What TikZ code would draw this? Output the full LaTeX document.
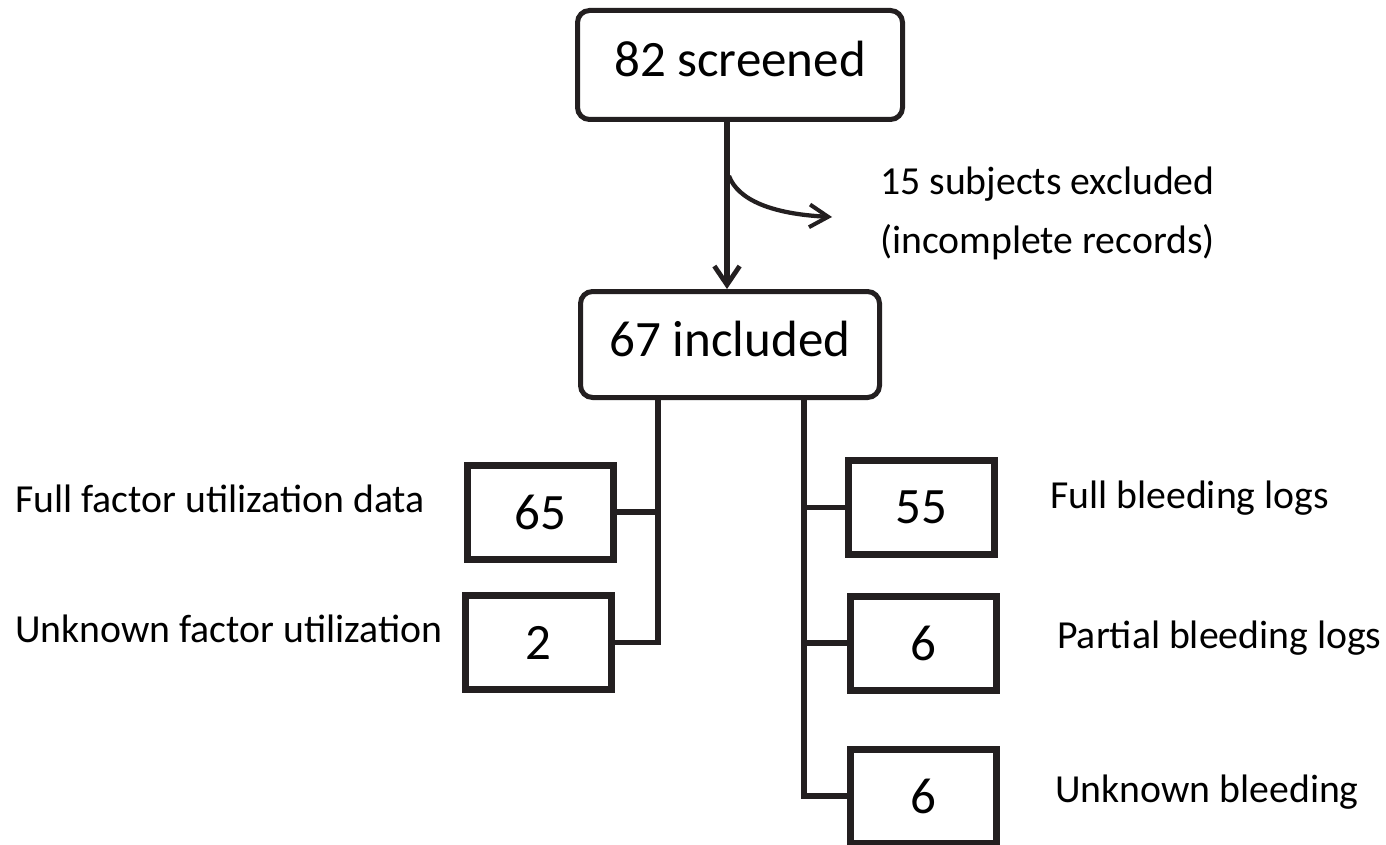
\documentclass[tikz,border=0pt]{standalone}
\usepackage{fontspec}
\setmainfont{Carlito}
\usetikzlibrary{arrows.meta}
\definecolor{ink}{HTML}{231F20}
\tikzset{
  roundbox/.style={draw=ink, line width=3.75pt, rounded corners=9pt, inner sep=0pt,
    font=\fontsize{38.25}{40}\selectfont, text height=27pt, text depth=9pt},
  numbox/.style={draw=ink, line width=5.25pt, inner sep=0pt, minimum width=110pt, minimum height=70.5pt,
    font=\fontsize{38.25}{40}\selectfont},
  sidelabel/.style={anchor=base west, inner sep=0pt, font=\fontsize{29.8}{32}\selectfont},
  conn/.style={draw=ink, line width=4.2pt},
  mainarrow/.style={draw=ink, line width=3.9pt, -{Straight Barb[length=14pt,width=19pt,line width=3.6pt]}},
  exarrow/.style={draw=ink, line width=3.2pt, -{Straight Barb[length=14pt,width=17pt,line width=3pt]}}
}
\begin{document}
\begin{tikzpicture}[x=0.75pt,y=-0.75pt]
\useasboundingbox (0,0) rectangle (1386,845);
% main boxes
\node[roundbox, minimum width=243.75pt, minimum height=81.75pt] (scr) at (740,65) {82 screened};
\node[roundbox, minimum width=224.25pt, minimum height=79.5pt] (inc) at (730,344.5) {67 included};
% number boxes
\node[numbox] (b65) at (540.5,512) {65};
\node[numbox] (b2) at (538.5,642.5) {2};
\node[numbox] (b55) at (921.5,507.5) {55};
\node[numbox] (b6a) at (923.5,643) {6};
\node[numbox] (b6b) at (923.5,796) {6};
% labels
\node[sidelabel] (l65) at (15,512) {Full factor utilization data};
\node[sidelabel] (l2) at (15,642) {Unknown factor utilization};
\node[sidelabel] (l55) at (1050,508) {Full bleeding logs};
\node[sidelabel] (l6a) at (1057,648) {Partial bleeding logs};
\node[sidelabel] (l6b) at (1055,802) {Unknown bleeding};
\node[sidelabel] (ex1) at (880,195) {15 subjects excluded};
\node[sidelabel] (ex2) at (880,253) {(incomplete records)};
% main arrow
\draw[mainarrow] (scr.south -| 727,0) -- (inc.north -| 727,0);
% exclusion arrow
\coordinate (exs) at (729,176);
\coordinate (exe) at (832,217);
\draw[exarrow] (exs) .. controls (738,200) and (772,214) .. (exe);
% left branch
\coordinate (L) at (658,0);
\draw[conn, line join=miter] (inc.south -| L) |- (b2.east);
\draw[conn] (b65.east) -- (b65.east -| L);
% right branch
\coordinate (R) at (804,0);
\draw[conn, line join=miter] (inc.south -| R) |- (b6b.west);
\draw[conn] (b55.west) -- (b55.west -| R);
\draw[conn] (b6a.west) -- (b6a.west -| R);
\end{tikzpicture}
\end{document}
